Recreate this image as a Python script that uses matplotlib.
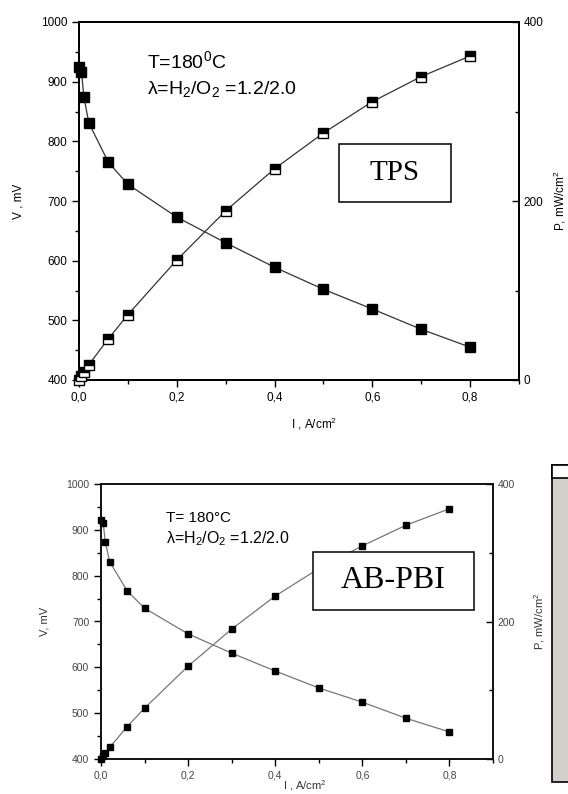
import matplotlib.pyplot as plt
from matplotlib.patches import Rectangle
from matplotlib.ticker import MultipleLocator

plt.rcParams['font.family'] = ['Liberation Sans', 'DejaVu Sans']
plt.rcParams['mathtext.fontset'] = 'custom'
plt.rcParams['mathtext.rm'] = 'Liberation Sans'

# TPS membrane (top panel)
i_tps = [0.0, 0.005, 0.01, 0.02, 0.06, 0.1, 0.2, 0.3, 0.4, 0.5, 0.6, 0.7, 0.8]
v_tps = [925, 916, 875, 831, 765, 728, 673, 630, 589, 552, 519, 485, 455]
p_tps = [0, 4.6, 8.8, 17, 46, 73, 134, 189, 236, 276, 311, 339, 362]

# AB-PBI membrane (bottom panel)
i_ab = [0.0, 0.005, 0.01, 0.02, 0.06, 0.1, 0.2, 0.3, 0.4, 0.5, 0.6, 0.7, 0.8]
v_ab = [921, 915, 873, 830, 767, 729, 673, 631, 592, 555, 524, 489, 459]
p_ab = [0, 4.5, 8.7, 17, 47, 74, 135, 189, 237, 277, 310, 340, 364]

x_ticks = [0.0, 0.2, 0.4, 0.6, 0.8]
x_ticklabels = ["0,0", "0,2", "0,4", "0,6", "0,8"]
v_ticks = [400, 500, 600, 700, 800, 900, 1000]
p_ticks = [0, 200, 400]

W, H = 568, 794
fig = plt.figure(figsize=(W / 100, H / 100), dpi=100)


def panel(rect, i, v, p, style):
    ax = fig.add_axes(rect)
    ax2 = ax.twinx()
    lc, tc, lw, ms, fs = style['line'], style['tick'], style['spine'], style['ms'], style['fs']
    ax.plot(i, v, color=lc, lw=0.9, marker='s', ms=ms, mfc='black', mec='black',
            clip_on=False, zorder=3)
    ax2.plot(i, p, color=lc, lw=0.9, marker='s', ms=ms, mfc='black', mec='black',
             fillstyle=style['pfill'], markerfacecoloralt='white', clip_on=False, zorder=3)
    ax.set_xlim(0, 0.9)
    ax.set_ylim(400, 1000)
    ax2.set_ylim(0, 400)
    ax.set_xticks(x_ticks)
    ax.set_xticklabels(x_ticklabels)
    ax.set_yticks(v_ticks)
    ax2.set_yticks(p_ticks)
    ax.xaxis.set_minor_locator(MultipleLocator(0.1))
    ax.yaxis.set_minor_locator(MultipleLocator(50))
    ax2.yaxis.set_minor_locator(MultipleLocator(100))
    ax.tick_params(axis='both', which='major', direction='out', length=5, width=1,
                   labelsize=fs, labelcolor=tc, top=False)
    ax.tick_params(axis='both', which='minor', direction='out', length=3, width=1, top=False)
    ax2.tick_params(axis='y', which='major', direction='in', length=5, width=1,
                    labelsize=fs, labelcolor=tc)
    ax2.tick_params(axis='y', which='minor', direction='in', length=3, width=1)
    for a in (ax, ax2):
        for s in a.spines.values():
            s.set_linewidth(lw)
            s.set_color(style['spinec'])
    return ax, ax2


def label_box(a, x0, x1, y0, y1, text, size):
    a.add_patch(Rectangle((x0, y0), x1 - x0, y1 - y0, transform=a.transAxes,
                          fc='white', ec='black', lw=1.1, zorder=6))
    a.text((x0 + x1) / 2, (y0 + y1) / 2, text, transform=a.transAxes, fontsize=size,
           family='Liberation Serif', ha='center', va='center', zorder=7)


top_style = dict(line='#333333', tick='black', spine=1.3, ms=6.5, fs=8.5,
                 pfill='top', spinec='black')
ax, ax2 = panel([79 / W, 1 - 380 / H, 440 / W, 358 / H], i_tps, v_tps, p_tps, top_style)
ax.set_ylabel("V , mV", fontsize=8.5, labelpad=12)
ax.set_xlabel("I , A/cm$\\mathregular{^2}$", fontsize=8.5)
ax.xaxis.set_label_coords(0.535, -0.1)
ax2.set_ylabel("P, mW/cm$\\mathregular{^2}$", fontsize=8.5, labelpad=6)
ax.text(0.155, 0.87, "T=180$\\mathregular{^0}$C", transform=ax.transAxes, fontsize=14)
ax.text(0.155, 0.80, "λ=H$\\mathregular{_2}$/O$\\mathregular{_2}$ =1.2/2.0",
        transform=ax.transAxes, fontsize=14)
label_box(ax2, 0.591, 0.845, 0.497, 0.659, "TPS", 21)

bot_style = dict(line='#777777', tick='#444444', spine=1.2, ms=5, fs=7.5,
                 pfill='full', spinec='#111111')
bx, bx2 = panel([101 / W, 1 - 759 / H, 392 / W, 275 / H], i_ab, v_ab, p_ab, bot_style)
bx.set_ylabel("V, mV", fontsize=8, color='#333333', labelpad=12)
bx.set_xlabel("I , A/cm$\\mathregular{^2}$", fontsize=8, color='#333333')
bx.xaxis.set_label_coords(0.52, -0.07)
bx2.set_ylabel("P, mW/cm$\\mathregular{^2}$", fontsize=8, color='#333333', labelpad=12)
bx.text(0.165, 0.86, "T= 180°C", transform=bx.transAxes, fontsize=11)
bx.text(0.165, 0.785, "λ=H$\\mathregular{_2}$/O$\\mathregular{_2}$ =1.2/2.0",
        transform=bx.transAxes, fontsize=11.5)
label_box(bx2, 0.541, 0.952, 0.542, 0.753, "AB-PBI", 23)

# grey panel cut off at the right edge
fig.patches.append(Rectangle((552 / W, 1 - 782 / H), 0.05, (782 - 465) / H,
                             transform=fig.transFigure, fc='#d3cfc9', ec='black', lw=1.2))
fig.patches.append(Rectangle((552 / W, 1 - 478 / H), 0.05, 13 / H,
                             transform=fig.transFigure, fc='white', ec='black', lw=1.2))

fig.savefig("out.png", dpi=100)
